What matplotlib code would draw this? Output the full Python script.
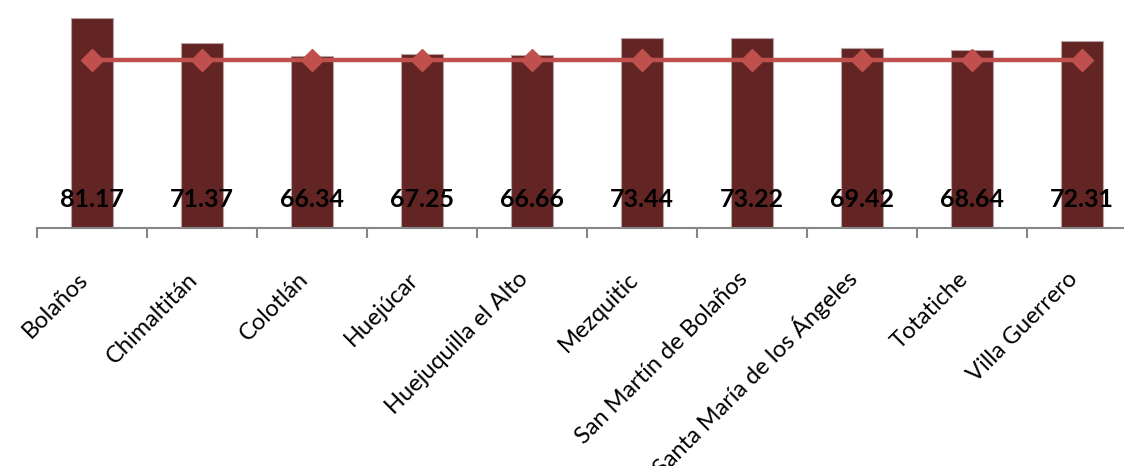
import numpy as np
import matplotlib
matplotlib.use('Agg')
import matplotlib.pyplot as plt

plt.rcParams['font.family'] = ['Lato', 'DejaVu Sans']

municipios = ['Bolaños', 'Chimaltitán', 'Colotlán', 'Huejúcar', 'Huejuquilla el Alto',
              'Mezquitic', 'San Martín de Bolaños', 'Santa María de los Ángeles',
              'Totatiche', 'Villa Guerrero']
valores = [81.17, 71.37, 66.34, 67.25, 66.66, 73.44, 73.22, 69.42, 68.64, 72.31]
promedio = [65.0] * len(municipios)

fig = plt.figure(figsize=(11.24, 4.66), dpi=100)
ax = fig.add_axes([0.0329, 0.511, 0.9787, 0.4885])

x = np.arange(len(municipios))
ax.bar(x, valores, width=0.39, color='#632523', edgecolor='#b9a5a5', linewidth=0.8, zorder=2)
ax.plot(x, promedio, color='#C0504D', linewidth=3.2, marker='D', markersize=11,
        markerfacecolor='#C0504D', markeredgecolor='#C0504D', zorder=3)

for xi, v in zip(x, valores):
    ax.text(xi, 10.8, '%.2f' % v, ha='center', va='center', fontsize=18,
            fontweight='bold', color='black', zorder=4)

ax.set_xlim(-0.5, len(municipios) - 0.5)
ax.set_ylim(0, 88)

for s in ['top', 'right', 'left']:
    ax.spines[s].set_visible(False)
ax.spines['bottom'].set_color('#868686')
ax.spines['bottom'].set_linewidth(1.5)
ax.set_yticks([])

ax.set_xticks(x)
ax.set_xticklabels(municipios, rotation=45, ha='right', va='bottom',
                   rotation_mode='anchor', fontsize=17)
ax.tick_params(axis='x', which='major', length=0, pad=40)
ax.set_xticks(np.arange(len(municipios) + 1) - 0.5, minor=True)
ax.tick_params(axis='x', which='minor', length=7, width=1.5, color='#868686')

plt.savefig('out.png', dpi=100)
